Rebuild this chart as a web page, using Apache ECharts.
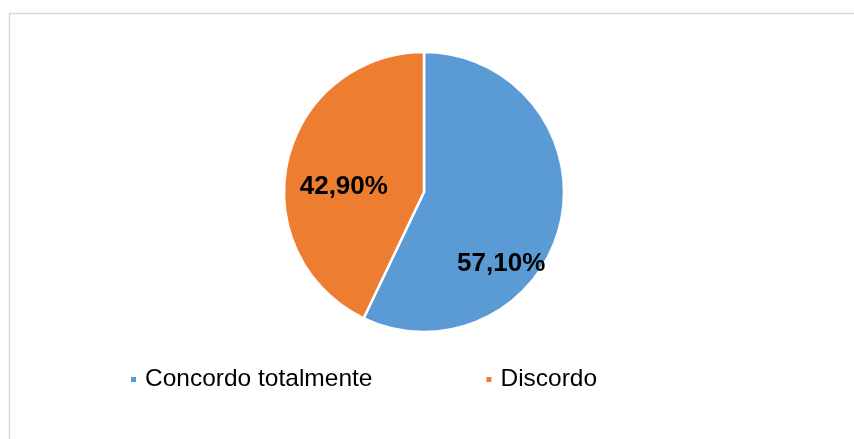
<!DOCTYPE html>
<html>
<head>
<meta charset="utf-8">
<script src="https://cdn.jsdelivr.net/npm/echarts@6/dist/echarts.min.js"></script>
<style>
  html, body { margin: 0; padding: 0; background: #fff; }
  #chart { width: 854px; height: 439px; }
</style>
</head>
<body>
<div id="chart"></div>
<script>
// data
const categories = ["Concordo totalmente", "Discordo"];
const values = [57.1, 42.9];
const colors = ["#5B9BD5", "#ED7D31"];
// label nudges from the default inside spot (Excel "best fit")
const labelOffsets = [[6, 56], [-9, 11]];

const chart = echarts.init(document.getElementById("chart"));
chart.setOption({
  animation: false,
  color: colors,
  graphic: [
    {
      type: "rect",
      shape: { x: 9.5, y: 13.5, width: 900, height: 500 },
      style: { fill: "none", stroke: "#d9d9d9", lineWidth: 1.5 }
    }
  ],
  legend: {
    left: 124,
    top: 362,
    itemWidth: 7,
    itemHeight: 7,
    itemGap: 112,
    icon: "rect",
    textStyle: {
      fontFamily: "Liberation Sans, Arial",
      fontSize: 24.5,
      color: "#000",
      padding: [0, 0, 0, 3]
    },
    data: categories
  },
  series: [
    {
      type: "pie",
      center: [424, 192],
      radius: 140,
      startAngle: 90,
      clockwise: true,
      itemStyle: { borderColor: "#fff", borderWidth: 2.5 },
      label: {
        show: true,
        position: "inside",
        fontFamily: "Liberation Sans, Arial",
        fontWeight: "bold",
        fontSize: 26,
        color: "#000",
        formatter: function (p) {
          return p.value.toFixed(2).replace(".", ",") + "%";
        }
      },
      labelLine: { show: false },
      emphasis: { disabled: true },
      data: categories.map(function (name, i) {
        return { name: name, value: values[i], label: { offset: labelOffsets[i] } };
      })
    }
  ]
});
</script>
</body>
</html>
